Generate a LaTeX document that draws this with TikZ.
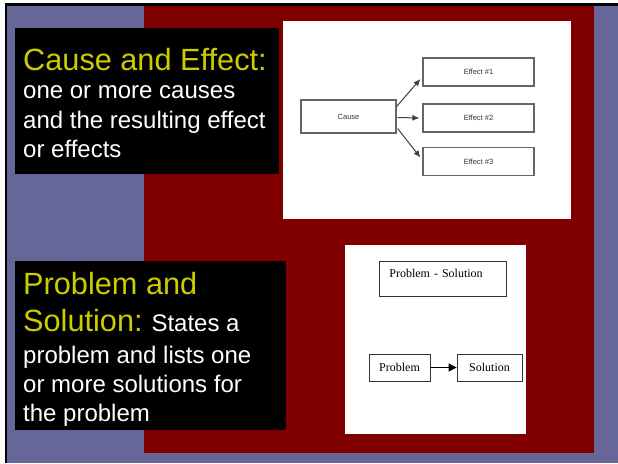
\documentclass[tikz,border=0pt]{standalone}
\usepackage{fontspec}
\setmainfont{Liberation Sans}
\newfontfamily\diagserif{Liberation Serif}
\usepackage{tikz}
\definecolor{Slide}{RGB}{102,102,153}
\definecolor{Slide1}{RGB}{128,0,0}
\definecolor{Title1}{RGB}{204,204,0}
\usetikzlibrary{arrows.meta}

\tikzset{
  titletext/.style={anchor=base west, inner sep=0, text=Title1,
                    font=\fontsize{30.7}{37}\selectfont},
  bodytext/.style={anchor=base west, inner sep=0, text=white,
                   font=\fontsize{24}{29}\selectfont},
  effectbox/.style={draw=black!60, line width=1.2pt, minimum width=111,
                    minimum height=28, text=black!80,
                    font=\fontsize{7.5}{8}\selectfont},
  effectarrow/.style={-{Latex[length=7pt,width=6pt]}, black!75, line width=1pt},
  psbox/.style={draw=black!80, line width=0.8pt,
                font=\diagserif\fontsize{12}{14}\selectfont},
}

\begin{document}
\begin{tikzpicture}[x=1pt,y=-1pt]
    \useasboundingbox (0,0) rectangle (618,463);
    \fill[white] (0,0) rectangle (618,463);
    \fill[black] (5,3) rectangle (618,463);
    \fill[Slide] (7,6) rectangle (618,463);
    \fill[Slide1] (144,6) rectangle (594,453);

    % cause and effect
    \fill[black] (15,28) rectangle (279,174);
    \fill[white] (283,21) rectangle (571,219);
    \node[titletext] (ce title) at (23,70) {Cause and Effect:};
    \foreach \txt [count=\i] in {one or more causes, and the resulting effect, or effects}
        \node[bodytext] (ce line\i) at (23,69.5+29.3*\i) {\txt};

    \node[effectbox, minimum width=95, minimum height=33] (cause) at (348.5,116.5) {Cause};
    \node[effectbox] (effect1) at (478.5,72) {Effect \#1};
    \node[effectbox] (effect2) at (478.5,118) {Effect \#2};
    \node[effectbox] (effect3) at (478.5,161.5) {Effect \#3};
    \draw[effectarrow] ([shift={(0,-10)}]cause.east) -- ([shift={(-2,7)}]effect1.west);
    \draw[effectarrow] ([shift={(1,1)}]cause.east) -- ([shift={(-3,0)}]effect2.west);
    \draw[effectarrow] ([shift={(1,12)}]cause.east) -- ([shift={(-2,-4)}]effect3.west);

    % problem and solution
    \fill[black] (15,261) rectangle (286,430);
    \fill[white] (345,245) rectangle (526,434);
    \node[titletext] (ps title) at (23,294) {Problem and};
    \node[titletext] (ps title2) at (23,331) {Solution:\hspace{-2.5pt} \textcolor{white}{\fontsize{24}{29}\selectfont States a}};
    \foreach \txt [count=\i] in {problem and lists one, or more solutions for, the problem}
        \node[bodytext] (ps line\i) at (23,334+29*\i) {\txt};

    \node[psbox, anchor=north west, text width=107, align=left, inner xsep=10,
          inner ysep=6, text height=10, text depth=13] (ps header) at (379,261) {Problem - Solution};
    \node[psbox, minimum width=61, minimum height=27] (problem) at (399.5,367.5) {Problem};
    \node[psbox, minimum width=65, minimum height=27] (solution) at (489.5,367.5) {Solution};
    \draw[-{Triangle[length=8pt,width=8pt]}, line width=0.8pt] (problem) -- (solution);
\end{tikzpicture}
\end{document}
